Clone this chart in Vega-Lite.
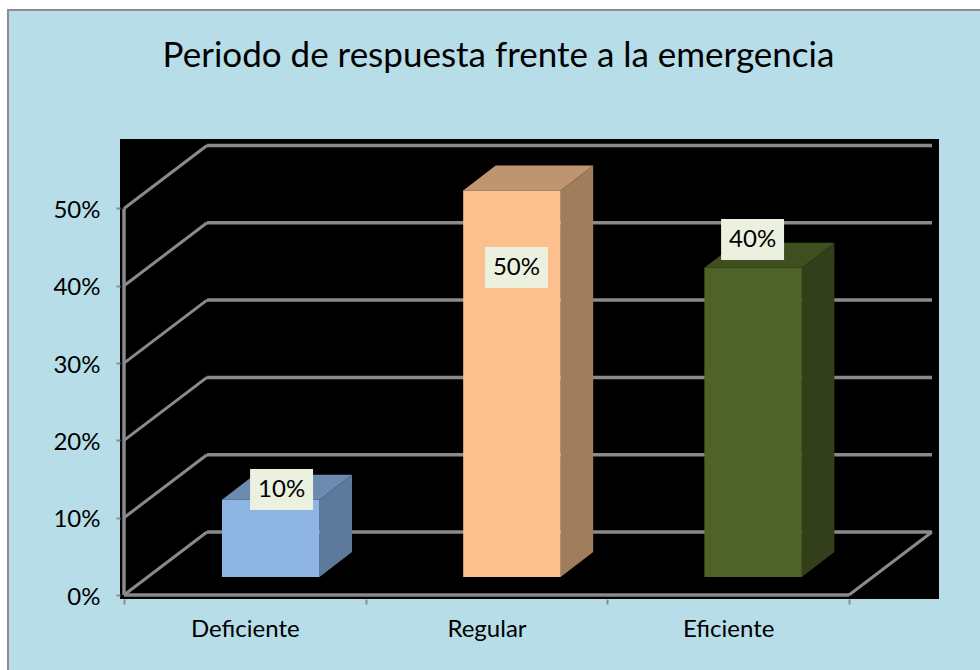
{
  "$schema": "https://vega.github.io/schema/vega-lite/v6.json",
  "width": 819,
  "height": 460,
  "autosize": "none",
  "padding": {"left": 120, "top": 139, "right": 41, "bottom": 71},
  "background": "#ffffff",
  "title": {"text": "Periodo de respuesta frente a la emergencia", "font": "Lato", "fontSize": 35, "fontWeight": "normal", "color": "#000000", "anchor": "middle", "frame": "group", "dx": -31, "offset": -93, "baseline": "alphabetic", "zindex": 1},
  "config": {"view": {"stroke": null}, "style": {"guide-label": {"font": "Lato"}}},
  "datasets": {
    "bars": [
      {"category": "Deficiente", "value": 0.1},
      {"category": "Regular", "value": 0.5},
      {"category": "Eficiente", "value": 0.4}
    ],
    "ticks": [{"tick": 0}, {"tick": 0.1}, {"tick": 0.2}, {"tick": 0.3}, {"tick": 0.4}, {"tick": 0.5}],
    "one": [{"panel": "chart"}]
  },
  "resolve": {"scale": {"color": "independent"}},
  "layer": [
    {
      "data": {"name": "one"},
      "mark": {"type": "rect", "fill": "#B7DDE8", "stroke": "#8C8C8C", "strokeWidth": 2},
      "encoding": {
        "x": {"datum": -0.48, "type": "quantitative", "scale": {"domain": [-0.01655, 3.3724], "nice": false, "zero": false},
          "axis": {"title": null, "zindex": 1, "values": [0, 0.5, 1, 1.5, 2, 2.5, 3], "grid": false, "domain": false, "labelExpr": "datum.value == 0.5 ? 'Deficiente' : datum.value == 1.5 ? 'Regular' : datum.value == 2.5 ? 'Eficiente' : ''", "labelFont": "Lato", "labelFontSize": 24, "labelColor": "#000000", "labelPadding": 13, "labelFlush": false, "labelOverlap": false, "labelBound": false, "tickColor": "#8C8C8C", "tickWidth": 2, "tickSize": 5, "tickOpacity": {"condition": {"test": "datum.value % 1 !== 0", "value": 0}, "value": 1}}},
        "x2": {"datum": 3.6},
        "y": {"datum": 0.7568, "type": "quantitative", "scale": {"domain": [-0.00517, 0.5899], "nice": false, "zero": false},
          "axis": {"title": null, "zindex": 1, "values": [0, 0.1, 0.2, 0.3, 0.4, 0.5], "format": ".0%", "grid": false, "domain": false, "labelFont": "Lato", "labelFontSize": 24, "labelColor": "#000000", "labelPadding": 16, "labelOffset": 2, "tickColor": "#8C8C8C", "tickWidth": 2, "tickSize": 4}},
        "y2": {"datum": -0.11}
      }
    },
    {
      "data": {"name": "one"},
      "mark": {"type": "rect", "fill": "#000000"},
      "encoding": {
        "x": {"datum": -0.01655, "type": "quantitative"},
        "x2": {"datum": 3.3724},
        "y": {"datum": -0.00517, "type": "quantitative"},
        "y2": {"datum": 0.5899}
      }
    },
    {
      "data": {"name": "ticks"},
      "transform": [{"calculate": "datum.tick + 0.0815", "as": "back"}],
      "mark": {"type": "rule", "color": "#8A8A8A", "strokeWidth": 3.5},
      "encoding": {
        "x": {"datum": 0.3434, "type": "quantitative"},
        "x2": {"datum": 3.3434},
        "y": {"field": "back", "type": "quantitative"}
      }
    },
    {
      "data": {"name": "ticks"},
      "transform": [{"calculate": "datum.tick + 0.0815", "as": "back"}],
      "mark": {"type": "rule", "color": "#8A8A8A", "strokeWidth": 3},
      "encoding": {
        "x": {"datum": 0, "type": "quantitative"},
        "x2": {"datum": 0.3434},
        "y": {"field": "tick", "type": "quantitative"},
        "y2": {"field": "back"}
      }
    },
    {
      "data": {"name": "one"},
      "mark": {"type": "rule", "color": "#8A8A8A", "strokeWidth": 3.5},
      "encoding": {
        "x": {"datum": 0, "type": "quantitative"},
        "x2": {"datum": 3},
        "y": {"datum": 0, "type": "quantitative"}
      }
    },
    {
      "data": {"name": "one"},
      "mark": {"type": "rule", "color": "#8A8A8A", "strokeWidth": 3.5},
      "encoding": {
        "x": {"datum": 0, "type": "quantitative"},
        "y": {"datum": 0, "type": "quantitative"},
        "y2": {"datum": 0.5}
      }
    },
    {
      "data": {"name": "one"},
      "mark": {"type": "rule", "color": "#8A8A8A", "strokeWidth": 3},
      "encoding": {
        "x": {"datum": 3, "type": "quantitative"},
        "x2": {"datum": 3.3434},
        "y": {"datum": 0, "type": "quantitative"},
        "y2": {"datum": 0.0815}
      }
    },
    {
      "data": {"name": "bars"},
      "transform": [
        {"calculate": "indexof(['Deficiente','Regular','Eficiente'], datum.category)", "as": "i"},
        {"calculate": "[0, 1]", "as": "s"},
        {"flatten": ["s"]},
        {"calculate": "datum.i + 0.4055 + 0.4034 - 0.002 * datum.i + datum.s * 0.1345", "as": "px"},
        {"calculate": "datum.value + 0.0233 + datum.s * 0.0323", "as": "pt"},
        {"calculate": "0.0233 + datum.s * 0.0323", "as": "pb"}
      ],
      "mark": {"type": "area", "interpolate": "linear", "opacity": 1},
      "encoding": {
        "x": {"field": "px", "type": "quantitative"},
        "y": {"field": "pt", "type": "quantitative"},
        "y2": {"field": "pb"},
        "color": {"field": "category", "type": "nominal", "legend": null, "scale": {"domain": ["Deficiente", "Regular", "Eficiente"], "range": ["#5E7A9B", "#A07D5C", "#333F1A"]}}
      }
    },
    {
      "data": {"name": "bars"},
      "transform": [
        {"calculate": "indexof(['Deficiente','Regular','Eficiente'], datum.category)", "as": "i"},
        {"calculate": "[0, 1]", "as": "s"},
        {"flatten": ["s"]},
        {"calculate": "datum.i + 0.4055 - 0.002 * datum.i + datum.s * 0.1345", "as": "pl"},
        {"calculate": "datum.pl + 0.4034", "as": "pr"},
        {"calculate": "datum.value + 0.0233 + datum.s * 0.0323", "as": "pt"}
      ],
      "mark": {"type": "area", "orient": "horizontal", "interpolate": "linear", "opacity": 1},
      "encoding": {
        "y": {"field": "pt", "type": "quantitative"},
        "x": {"field": "pl", "type": "quantitative"},
        "x2": {"field": "pr"},
        "color": {"field": "category", "type": "nominal", "legend": null, "scale": {"domain": ["Deficiente", "Regular", "Eficiente"], "range": ["#6C8BB1", "#BF9470", "#3F4F20"]}}
      }
    },
    {
      "data": {"name": "bars"},
      "transform": [
        {"calculate": "indexof(['Deficiente','Regular','Eficiente'], datum.category)", "as": "i"},
        {"calculate": "datum.i + 0.4055 - 0.002 * datum.i", "as": "fl"},
        {"calculate": "datum.fl + 0.4034", "as": "fr"},
        {"calculate": "datum.value + 0.0233", "as": "ft"},
        {"calculate": "0.0233", "as": "fb"}
      ],
      "mark": {"type": "rect", "opacity": 1},
      "encoding": {
        "x": {"field": "fl", "type": "quantitative"},
        "x2": {"field": "fr"},
        "y": {"field": "ft", "type": "quantitative"},
        "y2": {"field": "fb"},
        "color": {"field": "category", "type": "nominal", "legend": null, "scale": {"domain": ["Deficiente", "Regular", "Eficiente"], "range": ["#8DB4E2", "#FCC08E", "#4F6228"]}}
      }
    },
    {
      "data": {"name": "bars"},
      "transform": [
        {"calculate": "indexof(['Deficiente','Regular','Eficiente'], datum.category)", "as": "i"},
        {"calculate": "datum.i + {'Deficiente': 0.652, 'Regular': 0.624, 'Eficiente': 0.601}[datum.category]", "as": "lx"},
        {"calculate": "{'Deficiente': 0.1365, 'Regular': 0.4237, 'Eficiente': 0.4599}[datum.category]", "as": "ly"},
        {"calculate": "datum.lx - 0.1303", "as": "l0"},
        {"calculate": "datum.lx + 0.1303", "as": "l1"},
        {"calculate": "datum.ly - 0.0265", "as": "y0"},
        {"calculate": "datum.ly + 0.0265", "as": "y1"}
      ],
      "mark": {"type": "rect", "fill": "#EBF1DE", "opacity": 1},
      "encoding": {
        "x": {"field": "l0", "type": "quantitative"},
        "x2": {"field": "l1"},
        "y": {"field": "y0", "type": "quantitative"},
        "y2": {"field": "y1"}
      }
    },
    {
      "data": {"name": "bars"},
      "transform": [
        {"calculate": "indexof(['Deficiente','Regular','Eficiente'], datum.category)", "as": "i"},
        {"calculate": "datum.i + {'Deficiente': 0.652, 'Regular': 0.624, 'Eficiente': 0.601}[datum.category]", "as": "lx"},
        {"calculate": "{'Deficiente': 0.1365, 'Regular': 0.4237, 'Eficiente': 0.4599}[datum.category]", "as": "ly"}
      ],
      "mark": {"type": "text", "font": "Lato", "fontSize": 24, "color": "#000000", "align": "center", "baseline": "middle", "dy": 1},
      "encoding": {
        "x": {"field": "lx", "type": "quantitative"},
        "y": {"field": "ly", "type": "quantitative"},
        "text": {"field": "value", "type": "quantitative", "format": ".0%"}
      }
    }
  ]
}
